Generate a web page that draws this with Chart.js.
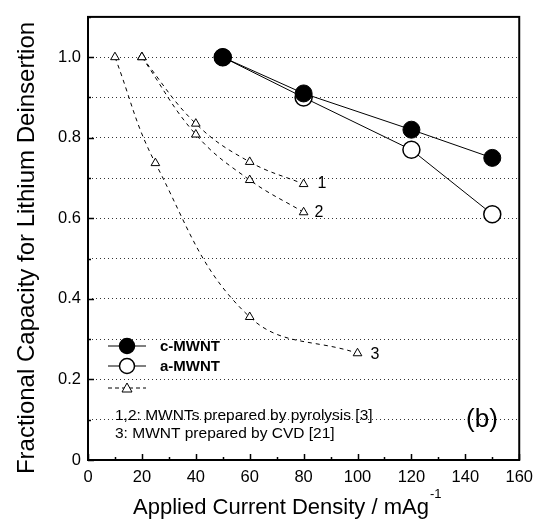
<!DOCTYPE html>
<html>
<head>
<meta charset="utf-8">
<script src="https://cdn.jsdelivr.net/npm/chart.js@4.4.1/dist/chart.umd.min.js"></script>
<style>
  html, body { margin: 0; padding: 0; background: #fff; }
  #wrap { width: 541px; height: 524px; }
</style>
</head>
<body>
<div id="wrap"><canvas id="capacityChart" width="541" height="524"></canvas></div>
<script>
// carbon nanotube samples measured here
const currentDensity = [50, 80, 120, 150];
const cMwnt = [1.0, 0.91, 0.82, 0.75];
const aMwnt = [1.0, 0.90, 0.77, 0.61];

// literature curves (pyrolysis 1, 2 and CVD 3)
const pyrolysisDensity = [20, 40, 60, 80];
const pyrolysis1 = [1.0, 0.835, 0.74, 0.685];
const pyrolysis2 = [1.0, 0.808, 0.695, 0.615];
const cvdDensity = [10, 25, 60, 100];
const cvd3 = [1.0, 0.737, 0.355, 0.265];

const xTickValues = [0, 20, 40, 60, 80, 100, 120, 140, 160];
const yTickValues = [0, 0.2, 0.4, 0.6, 0.8, 1.0];

const FONT = '"Liberation Sans", Arial, Helvetica, sans-serif';

function toPoints(xs, ys) {
    return xs.map((x, i) => ({ x: x, y: ys[i] }));
}

// frame, inward ticks, legend, axis titles and curve labels
const decorations = {
    id: 'decorations',
    afterDatasetsDraw(chart) {
        const ctx = chart.ctx;
        const area = chart.chartArea;
        const xs = chart.scales.x;
        const ys = chart.scales.y;

        ctx.save();
        ctx.strokeStyle = '#000';
        ctx.lineWidth = 2;
        ctx.strokeRect(area.left, area.top, area.right - area.left, area.bottom - area.top);

        ctx.lineWidth = 1.5;
        ctx.beginPath();
        for (let v = 0; v <= 160; v += 10) {
            const px = Math.round(xs.getPixelForValue(v)) + 0.5;
            const len = v % 20 === 0 ? 6 : 3;
            ctx.moveTo(px, area.bottom);
            ctx.lineTo(px, area.bottom - len);
        }
        for (let i = 0; i <= 11; i++) {
            const py = Math.round(ys.getPixelForValue(i / 10)) + 0.5;
            const len = i % 2 === 0 ? 6 : 3;
            ctx.moveTo(area.left, py);
            ctx.lineTo(area.left + len, py);
        }
        ctx.stroke();

        // legend
        const rows = [
            { y: 346, label: 'c-MWNT', kind: 'filled' },
            { y: 366, label: 'a-MWNT', kind: 'open' },
            { y: 388, label: '', kind: 'tri' }
        ];
        rows.forEach(r => {
            ctx.strokeStyle = '#000';
            ctx.lineWidth = 1;
            ctx.setLineDash(r.kind === 'tri' ? [4, 3] : []);
            ctx.beginPath();
            ctx.moveTo(108, r.y);
            ctx.lineTo(146, r.y);
            ctx.stroke();
            ctx.setLineDash([]);
            if (r.kind === 'tri') {
                ctx.fillStyle = '#fff';
                ctx.beginPath();
                ctx.moveTo(127, r.y - 5);
                ctx.lineTo(132, r.y + 4);
                ctx.lineTo(122, r.y + 4);
                ctx.closePath();
                ctx.fill();
                ctx.stroke();
            } else {
                ctx.beginPath();
                ctx.arc(127, r.y, 7.5, 0, Math.PI * 2);
                ctx.fillStyle = r.kind === 'filled' ? '#000' : '#fff';
                ctx.fill();
                ctx.lineWidth = 1.5;
                ctx.stroke();
            }
            if (r.label) {
                ctx.fillStyle = '#000';
                ctx.font = 'bold 15px ' + FONT;
                ctx.textBaseline = 'middle';
                ctx.textAlign = 'left';
                ctx.fillText(r.label, 160, r.y + 1);
            }
        });

        ctx.fillStyle = '#000';
        ctx.textBaseline = 'middle';
        ctx.textAlign = 'left';
        ctx.font = '15.5px ' + FONT;
        ctx.fillText('1,2: MWNTs prepared by pyrolysis [3]', 115, 416);
        ctx.fillText('3: MWNT prepared by CVD [21]', 115, 434);

        ctx.font = '26px ' + FONT;
        ctx.textAlign = 'center';
        ctx.fillText('(b)', 482, 420);

        ctx.font = '16px ' + FONT;
        ctx.textAlign = 'left';
        ctx.fillText('1', xs.getPixelForValue(80) + 14, ys.getPixelForValue(pyrolysis1[3]));
        ctx.fillText('2', xs.getPixelForValue(80) + 11, ys.getPixelForValue(pyrolysis2[3]));
        ctx.fillText('3', xs.getPixelForValue(100) + 13, ys.getPixelForValue(cvd3[3]) + 1);

        // axis titles
        ctx.font = '22px ' + FONT;
        ctx.textBaseline = 'middle';
        const xTitle = 'Applied Current Density / mAg';
        const w = ctx.measureText(xTitle).width;
        ctx.textAlign = 'left';
        ctx.fillText(xTitle, 133, 508);
        ctx.font = '13px ' + FONT;
        ctx.fillText('-1', 133 + w + 1, 494);

        ctx.save();
        ctx.translate(27, 248);
        ctx.rotate(-Math.PI / 2);
        ctx.font = '24px ' + FONT;
        ctx.textAlign = 'center';
        ctx.fillText('Fractional Capacity for Lithium Deinsertion', 0, 0);
        ctx.restore();

        ctx.restore();
    }
};

const ctx = document.getElementById('capacityChart');

function curve(label, points, extra) {
    return Object.assign({
        label: label,
        data: points,
        showLine: true,
        borderColor: '#000',
        borderWidth: 1,
        pointBorderColor: '#000'
    }, extra);
}

const triangleStyle = {
    borderDash: [4, 4],
    tension: 0.4,
    pointStyle: 'triangle',
    pointRadius: 5,
    pointBackgroundColor: '#fff',
    pointBorderWidth: 1
};

new Chart(ctx, {
    type: 'scatter',
    data: {
        datasets: [
            curve('c-MWNT', toPoints(currentDensity, cMwnt), {
                pointStyle: 'circle',
                pointRadius: 8.5,
                pointBackgroundColor: '#000',
                pointBorderWidth: 1
            }),
            curve('a-MWNT', toPoints(currentDensity, aMwnt), {
                pointStyle: 'circle',
                pointRadius: 8.5,
                pointBackgroundColor: '#fff',
                pointBorderWidth: 1.5
            }),
            curve('1', toPoints(pyrolysisDensity, pyrolysis1), triangleStyle),
            curve('2', toPoints(pyrolysisDensity, pyrolysis2), triangleStyle),
            curve('3', toPoints(cvdDensity, cvd3), triangleStyle)
        ]
    },
    options: {
        responsive: false,
        animation: false,
        devicePixelRatio: 1,
        layout: { padding: { left: 0, top: 15, right: 17, bottom: 0 } },
        plugins: {
            legend: { display: false },
            tooltip: { enabled: false }
        },
        scales: {
            x: {
                type: 'linear',
                min: 0,
                max: 160,
                afterFit: scale => { scale.height = 64; },
                afterBuildTicks: scale => {
                    scale.ticks = xTickValues.map(v => ({ value: v }));
                },
                grid: { display: false, drawTicks: false },
                border: { display: false },
                ticks: {
                    color: '#000',
                    padding: 8,
                    maxRotation: 0,
                    font: { family: FONT, size: 16.5 },
                    callback: v => String(v)
                }
            },
            y: {
                type: 'linear',
                min: 0,
                max: 1.1,
                afterFit: scale => { scale.width = 88; },
                afterBuildTicks: scale => {
                    const t = [];
                    for (let i = 0; i <= 10; i++) t.push({ value: i / 10 });
                    scale.ticks = t;
                },
                grid: {
                    drawTicks: false,
                    color: '#333',
                    lineWidth: 1
                },
                border: { display: false, dash: [1, 3] },
                ticks: {
                    color: '#000',
                    padding: 7,
                    font: { family: FONT, size: 16.5 },
                    callback: v => {
                        const r = Math.round(v * 10) / 10;
                        if (yTickValues.indexOf(r) === -1) return '';
                        return r === 0 ? '0' : r.toFixed(1);
                    }
                }
            }
        }
    },
    plugins: [decorations]
});
</script>
</body>
</html>
